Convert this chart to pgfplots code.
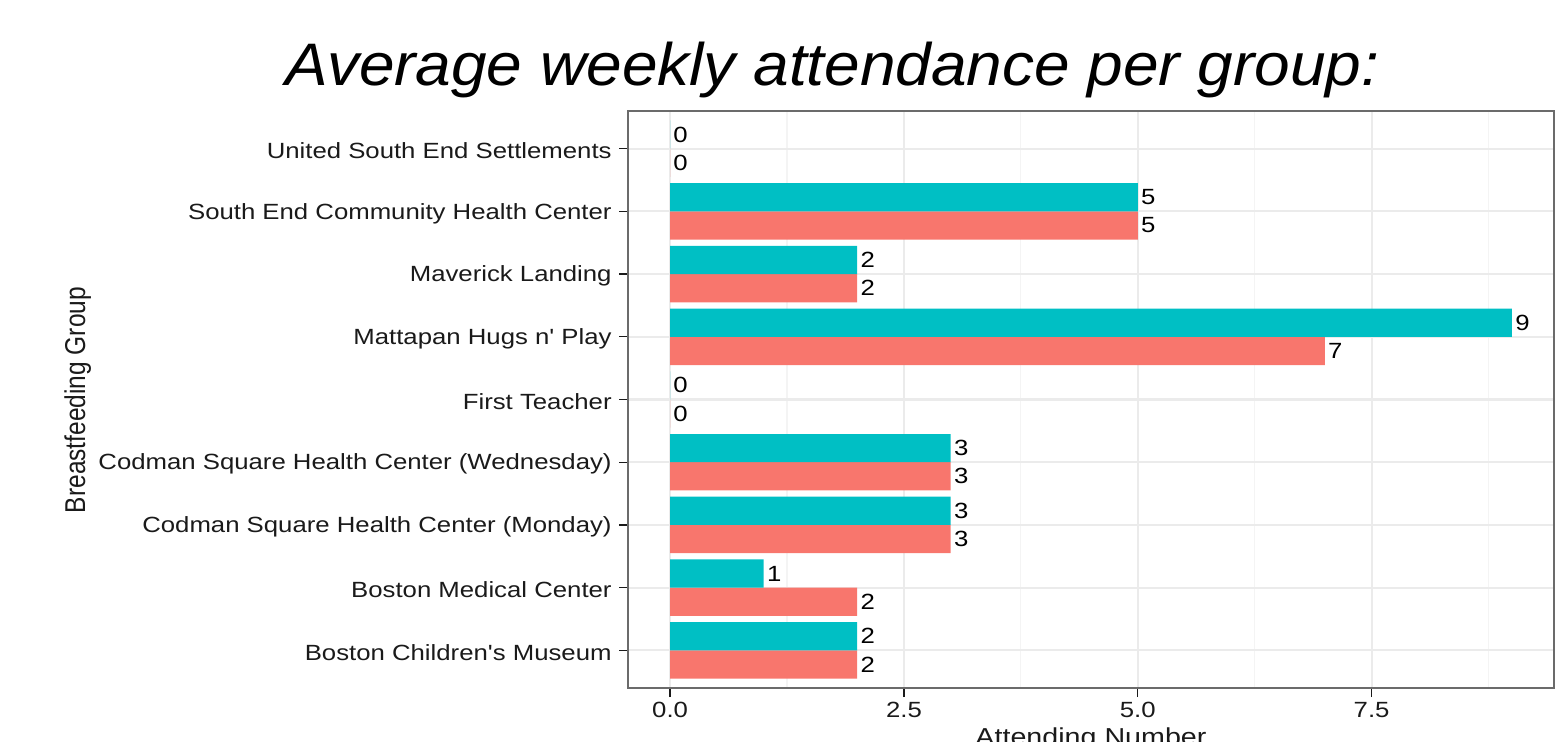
\documentclass[border=0pt]{standalone}
\usepackage{pgfplots}
\pgfplotsset{compat=1.18}
\usepackage{fontspec}
\usepackage{graphicx}
\setmainfont{Liberation Sans}
\newfontfamily\chartfont[FakeStretch=1.17]{Liberation Sans}
\newfontfamily\titlefont[FakeStretch=1.066]{Liberation Sans}
\definecolor{tealc}{HTML}{00BFC4}
\definecolor{redc}{HTML}{F8766D}
\definecolor{gridc}{HTML}{EBEBEB}
\definecolor{gridminor}{HTML}{F4F4F4}
\definecolor{framec}{HTML}{6B6B6B}
\definecolor{textc}{HTML}{1A1A1A}
\begin{document}
\begin{tikzpicture}
\begin{axis}[
  name=ax,
  at={(314pt,26.5pt)}, anchor=south west,
  scale only axis, width=463pt, height=288.5pt,
  xmin=-0.45, xmax=9.45, ymin=-0.6, ymax=8.6,
  xbar, bar width=0.45, bar shift=0pt,
  xtick={0,2.5,5,7.5},
  minor xtick={1.25,3.75,6.25,8.75},
  xticklabels={0.0,2.5,5.0,7.5},
  ytick={0,1,2,3,4,5,6,7,8},
  yticklabels={Boston Children's Museum, Boston Medical Center, Codman Square Health Center (Monday), Codman Square Health Center (Wednesday), First Teacher, Mattapan Hugs n' Play, Maverick Landing, South End Community Health Center, United South End Settlements},
  xmajorgrids, xminorgrids, ymajorgrids,
  major grid style={gridc, line width=1.1pt},
  minor grid style={gridminor, line width=0.6pt},
  axis line style={framec, line width=0.8pt},
  tick align=outside, xtick pos=bottom, ytick pos=left,
  major tick length=4.5pt, minor tick length=0pt,
  major tick style={textc, line width=0.6pt},
  tick label style={font=\chartfont\fontsize{11}{13}\selectfont, text=textc},
  yticklabel style={anchor=east, inner sep=0pt, xshift=-3.5pt, yshift=-1pt},
  xticklabel style={anchor=north, inner sep=0pt, yshift=-2.3pt},
  nodes near coords, point meta=x,
  every node near coord/.append style={font=\chartfont\fontsize{11}{13}\selectfont, anchor=west, inner sep=0pt, xshift=1.5pt, text=black},
  /pgf/number format/assume math mode=true,
]
\addplot[fill=redc, draw=none] coordinates {(2,-0.225) (2,0.775) (3,1.775) (3,2.775) (0,3.775) (7,4.775) (2,5.775) (5,6.775) (0,7.775)};
\addplot[fill=tealc, draw=none] coordinates {(2,0.225) (1,1.225) (3,2.225) (3,3.225) (0,4.225) (9,5.225) (2,6.225) (5,7.225) (0,8.225)};
\end{axis}
\node[anchor=base, font=\titlefont\itshape\fontsize{30}{36}\selectfont] at (416.25pt,327.5pt) {Average weekly attendance per group:};
\node[anchor=base, rotate=90, inner sep=0pt, text=textc] at (42.5pt,170.5pt) {\scalebox{1}[1.17]{\fontsize{12.25}{14}\selectfont Breastfeeding Group}};
\node[anchor=base, inner sep=0pt, font=\chartfont\fontsize{12.25}{14}\selectfont, text=textc] at (545.5pt,-2.25pt) {Attending Number};
\pgfresetboundingbox
\path (0,0) rectangle (783.5pt,370.5pt);
\end{tikzpicture}
\end{document}
